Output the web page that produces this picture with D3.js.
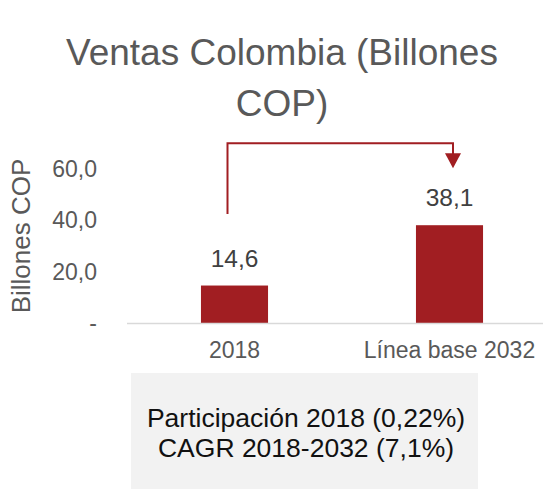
<!DOCTYPE html>
<html>
<head>
<meta charset="utf-8">
<script src="https://cdn.jsdelivr.net/npm/d3@7"></script>
<style>
  html, body { margin: 0; padding: 0; background: #fff; }
  svg { display: block; font-family: "Liberation Sans", Arial, Helvetica, sans-serif; }
</style>
</head>
<body>
<svg id="chart" width="543" height="489"></svg>
<script>
// Ventas Colombia, billones de COP
const categories = ["2018", "Línea base 2032"];
const ventas = [14.6, 38.1];
const yTicks = [0, 20, 40, 60];
const titleLines = ["Ventas Colombia (Billones", "COP)"];
const yTitle = "Billones COP";
const notes = ["Participación 2018 (0,22%)", "CAGR 2018-2032 (7,1%)"];

const red = "#a11e22";
const grey = "#595959";
const font = "'Liberation Sans', Arial, sans-serif";

const svg = d3.select("#chart");
const fmt = v => v === 0 ? "-" : d3.format(".1f")(v).replace(".", ",");

const x = d3.scaleBand()
  .domain(categories)
  .range([127, 557])
  .paddingInner(0.688)
  .paddingOuter(0.344);

const y = d3.scaleLinear().domain([0, 60]).range([323, 169]);

// Title
svg.append("text")
  .attr("text-anchor", "middle")
  .attr("font-size", 37)
  .attr("fill", grey)
  .selectAll("tspan")
  .data(titleLines)
  .join("tspan")
  .attr("x", 282)
  .attr("y", (d, i) => 65 + i * 51)
  .text(d => d);

// Y axis (labels only)
const yAxis = svg.append("g")
  .attr("transform", "translate(127,0)")
  .call(d3.axisLeft(y).tickValues(yTicks).tickSize(0).tickPadding(30).tickFormat(fmt));
yAxis.select(".domain").remove();
yAxis.selectAll("text")
  .attr("font-size", 23)
  .attr("font-family", font)
  .attr("fill", grey);

svg.append("text")
  .attr("transform", "translate(30,236) rotate(-90)")
  .attr("text-anchor", "middle")
  .attr("font-size", 26)
  .attr("fill", grey)
  .text(yTitle);

// Bars
svg.selectAll("rect.bar")
  .data(ventas)
  .join("rect")
  .attr("class", "bar")
  .attr("x", (d, i) => x(categories[i]))
  .attr("width", x.bandwidth())
  .attr("y", d => y(d))
  .attr("height", d => y(0) - y(d))
  .attr("fill", red);

// Baseline
svg.append("line")
  .attr("x1", 127).attr("x2", 543)
  .attr("y1", y(0) + 0.5).attr("y2", y(0) + 0.5)
  .attr("stroke", "#d9d9d9").attr("stroke-width", 1.5);

// Value labels
svg.selectAll("text.val")
  .data(ventas)
  .join("text")
  .attr("class", "val")
  .attr("x", (d, i) => x(categories[i]) + x.bandwidth() / 2)
  .attr("y", d => y(d) - 19)
  .attr("text-anchor", "middle")
  .attr("font-size", 24.5)
  .attr("fill", "#404040")
  .text(d => fmt(d));

// Category labels
const xAxis = svg.append("g")
  .attr("transform", `translate(0,${y(0)})`)
  .call(d3.axisBottom(x).tickSize(0).tickPadding(19));
xAxis.select(".domain").remove();
xAxis.selectAll("text")
  .attr("font-size", 23)
  .attr("font-family", font)
  .attr("fill", grey);

// Growth arrow from 2018 to 2032
const ax0 = x(categories[0]) + x.bandwidth() / 2 - 7;
const ax1 = x(categories[1]) + x.bandwidth() / 2 + 3.5;
const aTop = y(70), aStart = y(42.5), aTip = y(60.3);
svg.append("path")
  .attr("d", `M${ax0},${aStart}V${aTop}H${ax1}V${aTip - 12}`)
  .attr("fill", "none")
  .attr("stroke", red)
  .attr("stroke-width", 2);
svg.append("path")
  .attr("d", `M${ax1 - 8},${aTip - 15}L${ax1 + 8},${aTip - 15}L${ax1},${aTip}Z`)
  .attr("fill", red);

// Note box
svg.append("rect")
  .attr("x", 131).attr("y", 373)
  .attr("width", 347).attr("height", 120)
  .attr("fill", "#f2f2f2");
svg.append("text")
  .attr("text-anchor", "middle")
  .attr("font-size", 26.5)
  .attr("fill", "#111")
  .selectAll("tspan")
  .data(notes)
  .join("tspan")
  .attr("x", 306)
  .attr("y", (d, i) => 427 + i * 30)
  .text(d => d);
</script>
</body>
</html>
